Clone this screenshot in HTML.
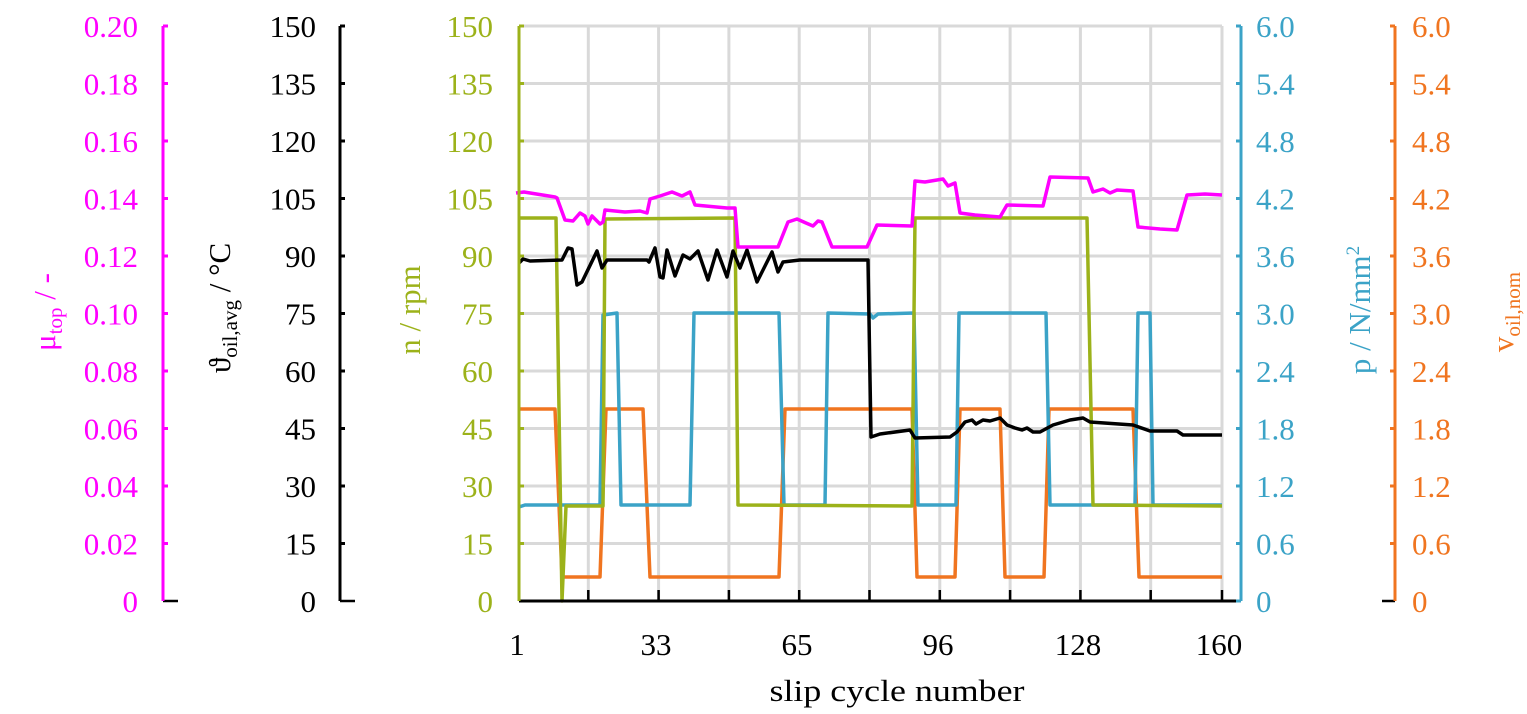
<!DOCTYPE html>
<html><head><meta charset="utf-8"><style>
body{margin:0;background:#fff}
svg{display:block}
text{font-family:"Liberation Serif",serif;font-size:31px}
</style></head><body>
<svg width="1527" height="714" viewBox="0 0 1527 714" xmlns="http://www.w3.org/2000/svg">
<g stroke="#d9d9d9" stroke-width="3">
<line x1="519" y1="26" x2="1222" y2="26"/><line x1="519" y1="83.5" x2="1222" y2="83.5"/><line x1="519" y1="141" x2="1222" y2="141"/><line x1="519" y1="198.5" x2="1222" y2="198.5"/><line x1="519" y1="256" x2="1222" y2="256"/><line x1="519" y1="313.5" x2="1222" y2="313.5"/><line x1="519" y1="371" x2="1222" y2="371"/><line x1="519" y1="428.5" x2="1222" y2="428.5"/><line x1="519" y1="486" x2="1222" y2="486"/><line x1="519" y1="543.5" x2="1222" y2="543.5"/>
<line x1="588.3" y1="26" x2="588.3" y2="601"/><line x1="658.6" y1="26" x2="658.6" y2="601"/><line x1="728.9" y1="26" x2="728.9" y2="601"/><line x1="799.2" y1="26" x2="799.2" y2="601"/><line x1="869.5" y1="26" x2="869.5" y2="601"/><line x1="939.8" y1="26" x2="939.8" y2="601"/><line x1="1010.1" y1="26" x2="1010.1" y2="601"/><line x1="1080.4" y1="26" x2="1080.4" y2="601"/><line x1="1150.7" y1="26" x2="1150.7" y2="601"/><line x1="1222" y1="26" x2="1222" y2="601"/>
</g>
<g fill="none" stroke-width="3.5" stroke-linejoin="round">
<polyline stroke="#f07520" points="519,409 555,409 562,577 600,577 606,409 643,409 650,577 779,577 785,409 912,409 917,577 955,577 960,409 1000,409 1005,577 1044,577 1049,409 1133,409 1139,577 1222,577"/>
<polyline stroke="#3ba3c7" points="519,507 525,505 600,505 603,315 617,313 621,505 690,505 694,313 779,313 784,505 825,505 828,313 870,314 873,318 878,314 914,313 918,505 956,505 959,313 1046,313 1050,505 1135,505 1138,313 1150,313 1153,505 1222,505"/>
<polyline stroke="#9cb21a" points="519,218 556,218 562,601 566,506 603,506 605,219 735,218 738,505 912,506 915,218 1087,218 1093,505 1222,506"/>
<polyline stroke="#000" points="519,263 523,259 530,261 562,260 568,248 572,249 577,285 582,282 597,251 602,268 607,260 647,260 649,262 655,248 660,277 663,278 667,250 675,276 683,255 690,259 698,251 708,280 717,250 727,277 733,251 740,268 747,250 757,282 772,252 778,272 783,262 800,260 868,260 871,437 880,434 910,430 915,438 950,437 957,432 965,422 972,420 976,424 983,420 990,421 1000,418 1007,425 1015,428 1022,430 1027,428 1033,432 1040,432 1053,425 1070,420 1083,418 1090,422 1133,425 1150,431 1177,431 1183,435 1222,435"/>
<polyline stroke="#ff00ff" points="516,193 524,192 555,197 557,198 565,220 573,221 580,213 585,216 588,224 592,216 600,224 603,222 605,210 625,212 640,211 647,213 650,199 660,196 672,192 682,196 690,192 695,205 727,208 735,208 738,247 778,247 788,222 797,219 806,223 813,226 818,221 822,222 832,247 867,247 877,225 912,226 915,181 925,182 943,179 948,186 955,183 960,213 975,215 1000,217 1007,205 1043,206 1050,177 1088,178 1093,192 1103,189 1110,193 1117,190 1133,191 1138,227 1160,229 1177,230 1187,195 1205,194 1222,195"/>
</g>
<line x1="519" y1="601" x2="1241" y2="601" stroke="#000" stroke-width="3"/>
<g stroke="#000" stroke-width="2.5">
<line x1="588.3" y1="601" x2="588.3" y2="590"/><line x1="658.6" y1="601" x2="658.6" y2="590"/><line x1="728.9" y1="601" x2="728.9" y2="590"/><line x1="799.2" y1="601" x2="799.2" y2="590"/><line x1="869.5" y1="601" x2="869.5" y2="590"/><line x1="939.8" y1="601" x2="939.8" y2="590"/><line x1="1010.1" y1="601" x2="1010.1" y2="590"/><line x1="1080.4" y1="601" x2="1080.4" y2="590"/><line x1="1150.7" y1="601" x2="1150.7" y2="590"/><line x1="1222" y1="601" x2="1222" y2="590"/>
<line x1="163" y1="601" x2="178" y2="601"/><line x1="340" y1="601" x2="355" y2="601"/><line x1="1382" y1="601" x2="1395" y2="601"/>
</g>
<g stroke-width="3">
<path stroke="#ff00ff" d="M163,26V601M163,26h5M163,83.5h5M163,141h5M163,198.5h5M163,256h5M163,313.5h5M163,371h5M163,428.5h5M163,486h5M163,543.5h5"/>
<path stroke="#000" d="M340,26V601M340,26h5M340,83.5h5M340,141h5M340,198.5h5M340,256h5M340,313.5h5M340,371h5M340,428.5h5M340,486h5M340,543.5h5"/>
<path stroke="#9cb21a" d="M519,26V601M519,26h5M519,83.5h5M519,141h5M519,198.5h5M519,256h5M519,313.5h5M519,371h5M519,428.5h5M519,486h5M519,543.5h5"/>
<path stroke="#3ba3c7" d="M1241,26V601M1241,26h-5M1241,83.5h-5M1241,141h-5M1241,198.5h-5M1241,256h-5M1241,313.5h-5M1241,371h-5M1241,428.5h-5M1241,486h-5M1241,543.5h-5M1241,601h-5"/>
<path stroke="#f07520" d="M1395,26V601M1395,26h-5M1395,83.5h-5M1395,141h-5M1395,198.5h-5M1395,256h-5M1395,313.5h-5M1395,371h-5M1395,428.5h-5M1395,486h-5M1395,543.5h-5"/>
</g>
<g text-anchor="end" fill="#ff00ff">
<text x="138" y="37">0.20</text><text x="138" y="94.5">0.18</text><text x="138" y="152">0.16</text><text x="138" y="209.5">0.14</text><text x="138" y="267">0.12</text><text x="138" y="324.5">0.10</text><text x="138" y="382">0.08</text><text x="138" y="439.5">0.06</text><text x="138" y="497">0.04</text><text x="138" y="554.5">0.02</text><text x="138" y="612">0</text>
</g>
<g text-anchor="end" fill="#000">
<text x="316" y="37">150</text><text x="316" y="94.5">135</text><text x="316" y="152">120</text><text x="316" y="209.5">105</text><text x="316" y="267">90</text><text x="316" y="324.5">75</text><text x="316" y="382">60</text><text x="316" y="439.5">45</text><text x="316" y="497">30</text><text x="316" y="554.5">15</text><text x="316" y="612">0</text>
</g>
<g text-anchor="end" fill="#9cb21a">
<text x="493" y="37">150</text><text x="493" y="94.5">135</text><text x="493" y="152">120</text><text x="493" y="209.5">105</text><text x="493" y="267">90</text><text x="493" y="324.5">75</text><text x="493" y="382">60</text><text x="493" y="439.5">45</text><text x="493" y="497">30</text><text x="493" y="554.5">15</text><text x="493" y="612">0</text>
</g>
<g fill="#3ba3c7">
<text x="1256" y="37">6.0</text><text x="1256" y="94.5">5.4</text><text x="1256" y="152">4.8</text><text x="1256" y="209.5">4.2</text><text x="1256" y="267">3.6</text><text x="1256" y="324.5">3.0</text><text x="1256" y="382">2.4</text><text x="1256" y="439.5">1.8</text><text x="1256" y="497">1.2</text><text x="1256" y="554.5">0.6</text><text x="1256" y="612">0</text>
</g>
<g fill="#f07520">
<text x="1412" y="37">6.0</text><text x="1412" y="94.5">5.4</text><text x="1412" y="152">4.8</text><text x="1412" y="209.5">4.2</text><text x="1412" y="267">3.6</text><text x="1412" y="324.5">3.0</text><text x="1412" y="382">2.4</text><text x="1412" y="439.5">1.8</text><text x="1412" y="497">1.2</text><text x="1412" y="554.5">0.6</text><text x="1412" y="612">0</text>
</g>
<g text-anchor="middle" fill="#000">
<text x="517" y="655">1</text><text x="656" y="655">33</text><text x="797" y="655">65</text><text x="938" y="655">96</text><text x="1078" y="655">128</text><text x="1219" y="655">160</text>
<text x="897" y="701" textLength="255" lengthAdjust="spacingAndGlyphs">slip cycle number</text>
</g>
<text transform="translate(55,312) rotate(-90)" text-anchor="middle" fill="#ff00ff">μ<tspan font-size="21" dy="7">top</tspan><tspan dy="-7"> / -</tspan></text>
<text transform="translate(230,308) rotate(-90)" text-anchor="middle" fill="#000">ϑ<tspan font-size="21" dy="7">oil,avg</tspan><tspan dy="-7"> / °C</tspan></text>
<text transform="translate(420,310) rotate(-90)" text-anchor="middle" fill="#9cb21a">n / rpm</text>
<text transform="translate(1370,310) rotate(-90)" text-anchor="middle" fill="#3ba3c7">p / N/mm<tspan font-size="19" dy="-11">2</tspan></text>
<text transform="translate(1513,312) rotate(-90)" text-anchor="middle" fill="#f07520">v<tspan font-size="21" dy="7">oil,nom</tspan></text>
</svg>
</body></html>
